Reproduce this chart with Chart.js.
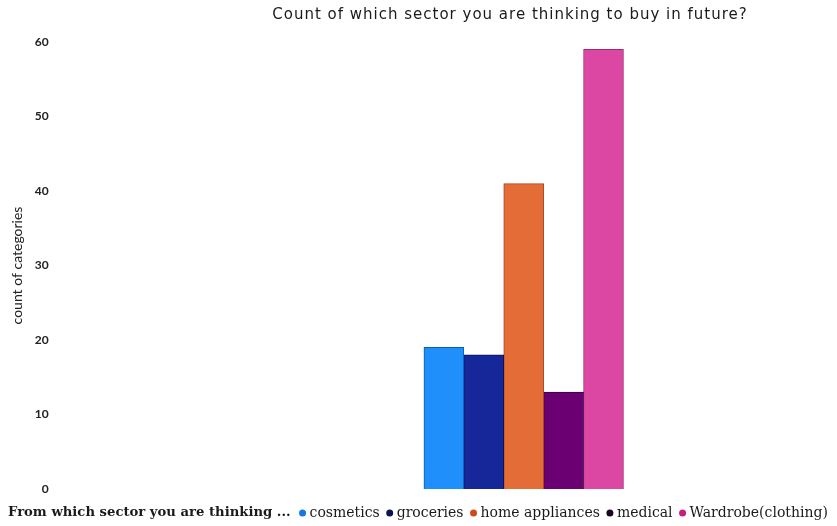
<!DOCTYPE html>
<html>
<head>
<meta charset="utf-8">
<title>Sector buying intent</title>
<script src="https://cdn.jsdelivr.net/npm/chart.js@4.4.1/dist/chart.umd.min.js"></script>
<style>
  html, body { margin: 0; padding: 0; background: #fff; }
  #wrap { width: 837px; height: 526px; }
</style>
</head>
<body>
<div id="wrap"><canvas id="chart"></canvas></div>
<script>
const sectors = ['cosmetics', 'groceries', 'home appliances', 'medical', 'Wardrobe(clothing)'];
const counts = [19, 18, 41, 13, 59];
const yTicks = [0, 10, 20, 30, 40, 50, 60];

const barFills = ['#1e8ffb', '#16279a', '#e36c37', '#6a0072', '#dc47a3'];
const barEdges = ['#0e5cae', '#0a1460', '#a9491f', '#3c0042', '#9c2a70'];
const dotColors = ['#1578e6', '#0c1450', '#cc4a1c', '#1e0424', '#c4207e'];

const chartTitle = 'Count of which sector you are thinking to buy in future?';
const legendHeading = 'From which sector you are thinking ...';
const yTitle = 'count of categories';

// each sector is its own dataset; bars sit side by side one unit apart
const datasets = sectors.map((name, i) => ({
    label: name,
    data: [{ x: i, y: counts[i] }],
    backgroundColor: barFills[i],
    borderColor: barEdges[i],
    borderWidth: 1,
    grouped: false,
    barPercentage: 1,
    categoryPercentage: 1
}));

// title on top, legend row (field name + coloured dots) along the bottom
const headings = {
    id: 'headings',
    afterDraw(chart) {
        const ctx = chart.ctx;
        ctx.save();
        ctx.textBaseline = 'middle';

        ctx.fillStyle = '#1a1a1a';
        ctx.font = '15px "DejaVu Sans"';
        ctx.letterSpacing = '1px';
        ctx.textAlign = 'center';
        ctx.fillText(chartTitle, 510, 15);
        ctx.letterSpacing = '0px';

        const y = 513;
        let x = 8;
        ctx.textAlign = 'left';
        ctx.font = 'bold 13.2px "DejaVu Serif"';
        ctx.fillText(legendHeading, x, y);
        x += ctx.measureText(legendHeading).width + 12;

        ctx.font = '14px "DejaVu Serif"';
        sectors.forEach((name, i) => {
            ctx.fillStyle = dotColors[i];
            ctx.beginPath();
            ctx.arc(x, y, 3.5, 0, Math.PI * 2);
            ctx.fill();
            ctx.fillStyle = '#1a1a1a';
            ctx.fillText(name, x + 7, y);
            x += 7 + ctx.measureText(name).width + 10;
        });
        ctx.restore();
    }
};

new Chart(document.getElementById('chart'), {
    type: 'bar',
    data: { datasets },
    plugins: [headings],
    options: {
        responsive: true,
        maintainAspectRatio: false,
        animation: false,
        layout: { padding: { top: 42, left: 5, right: 1, bottom: 37 } },
        scales: {
            x: {
                type: 'linear',
                display: false,
                offset: false,
                min: -9.775,
                max: 9.825,
                ticks: { stepSize: 5 }
            },
            y: {
                min: 0,
                max: 60,
                afterBuildTicks: axis => { axis.ticks = yTicks.map(v => ({ value: v })); },
                grid: { display: false, drawTicks: false },
                border: { display: false },
                ticks: {
                    padding: 5,
                    color: '#222',
                    font: { family: 'Lato', size: 12, weight: 'bold' }
                },
                title: {
                    display: true,
                    text: yTitle,
                    color: '#222',
                    font: { family: 'Lato', size: 14 }
                }
            }
        },
        plugins: {
            title: { display: false },
            tooltip: { enabled: false },
            legend: { display: false }
        }
    }
});
</script>
</body>
</html>
